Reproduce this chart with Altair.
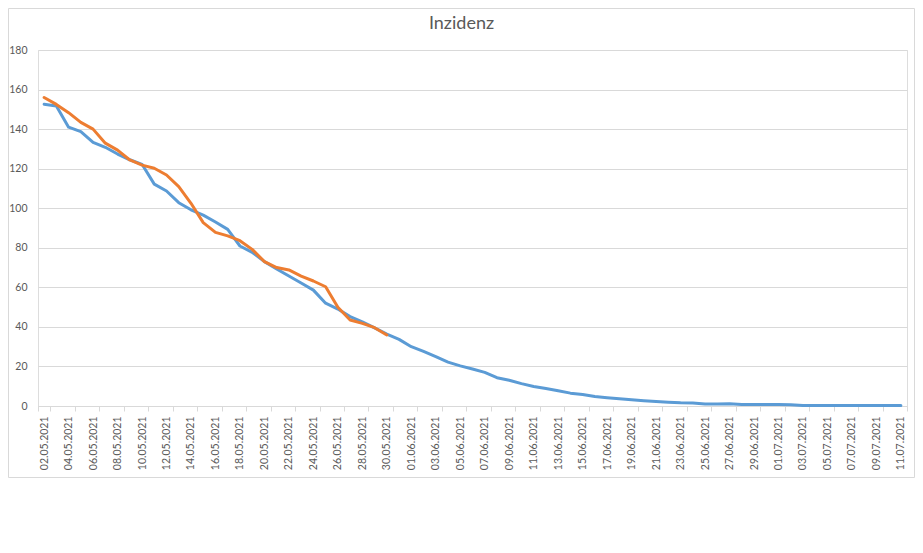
import altair as alt
import pandas as pd

# categories: daily dates 02.05.2021 .. 11.07.2021
dates = pd.date_range("2021-05-02", "2021-07-11").strftime("%d.%m.%Y").tolist()

blue_values = [
    152.6, 151.7, 141.0, 138.7, 133.3, 130.8, 127.4, 124.5, 122.2, 112.2,
    108.7, 102.8, 99.2, 96.5, 93.0, 89.3, 80.9, 77.7, 73.0, 69.3,
    65.7, 62.2, 58.6, 52.0, 49.0, 45.2, 42.5, 39.5, 36.4, 33.7,
    30.0, 27.6, 25.0, 22.2, 20.3, 18.7, 17.0, 14.3, 13.0, 11.3,
    9.9, 8.8, 7.7, 6.5, 5.8, 4.8, 4.2, 3.7, 3.2, 2.7,
    2.3, 1.9, 1.6, 1.5, 1.0, 1.0, 1.1, 0.7, 0.7, 0.7,
    0.7, 0.6, 0.2, 0.2, 0.2, 0.2, 0.2, 0.2, 0.2, 0.2, 0.2,
]
orange_values = [
    156.0, 152.5, 148.3, 143.4, 140.0, 132.9, 129.4, 124.4, 121.8, 120.2,
    116.8, 110.9, 102.5, 92.7, 87.8, 86.0, 83.6, 79.2, 73.0, 70.0,
    68.8, 65.7, 63.2, 60.3, 49.9, 43.5, 41.8, 39.6, 35.9,
]
series_names = ["Reihe1", "Reihe2"]
series_colors = ["#5B9BD5", "#ED7D31"]
y_ticks = list(range(0, 181, 20))
x_label_dates = dates[::2]
title_text = "Inzidenz"

rows = []
for i, (d, v) in enumerate(zip(dates, blue_values)):
    rows.append({"Datum": d, "idx": i, "Wert": v, "Reihe": series_names[0]})
for i, (d, v) in enumerate(zip(dates, orange_values)):
    rows.append({"Datum": d, "idx": i, "Wert": v, "Reihe": series_names[1]})
df = pd.DataFrame(rows)

FONT = "Lato"
TXT = "#595959"
GRID = "#d9d9d9"

lines = alt.Chart(df).mark_line(
    strokeWidth=3, strokeCap="round", strokeJoin="round"
).encode(
    x=alt.X(
        "Datum:N",
        sort=dates,
        bandPosition=0.5,
        scale=alt.Scale(type="band", domain=dates, paddingInner=0, paddingOuter=0),
        axis=alt.Axis(
            title=None,
            values=x_label_dates,
            tickBand="extent",
            labelAngle=270,
            labelAlign="right",
            labelBaseline="middle",
            labelPadding=5,
            labelFont=FONT,
            labelFontSize=10.5,
            labelColor=TXT,
            labelOverlap=False,
            labelFlush=False,
            labelLimit=200,
            tickSize=5,
            tickColor=GRID,
            tickWidth=1,
            domainColor=GRID,
            domainWidth=1,
            grid=False,
        ),
    ),
    y=alt.Y(
        "Wert:Q",
        scale=alt.Scale(domain=[0, 180], nice=False),
        axis=alt.Axis(
            title=None,
            values=y_ticks,
            domain=False,
            ticks=False,
            labelPadding=11,
            labelFont=FONT,
            labelFontSize=10.5,
            labelColor=TXT,
            gridColor=GRID,
            gridWidth=1,
        ),
    ),
    color=alt.Color(
        "Reihe:N",
        scale=alt.Scale(domain=series_names, range=series_colors),
        legend=None,
    ),
    order=alt.Order("idx:Q"),
)

frame = alt.Chart(pd.DataFrame({"k": [0]})).mark_rect(
    fillOpacity=0, stroke=GRID, strokeWidth=1
).encode(
    x=alt.value(-29.5), x2=alt.value(876.5),
    y=alt.value(-41.5), y2=alt.value(427.5),
)

title = alt.Chart(pd.DataFrame({"t": [title_text]})).mark_text(
    font=FONT, fontSize=18, color=TXT, align="center", baseline="alphabetic"
).encode(
    text="t:N",
    x=alt.value(423.5),
    y=alt.value(-21),
)

chart = alt.layer(frame, lines, title).properties(
    width=869,
    height=356,
    padding={"left": 30, "top": 42, "right": 8, "bottom": 72},
    autosize=alt.AutoSizeParams(type="none"),
).configure_view(strokeWidth=0).configure(background="white")

chart.save("out.html", embed_options={"renderer": "svg", "actions": False})
